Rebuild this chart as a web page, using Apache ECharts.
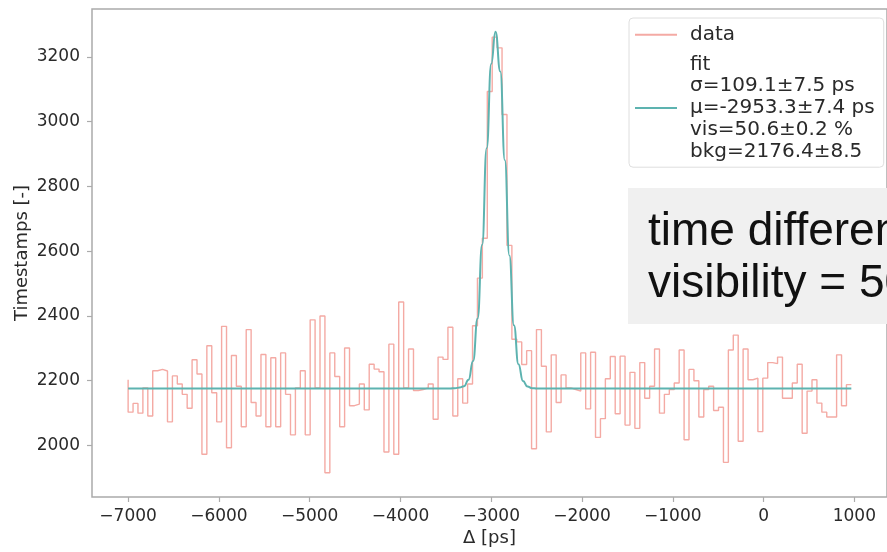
<!DOCTYPE html>
<html>
<head>
    <meta charset="utf-8">
    <script src="https://cdn.jsdelivr.net/npm/echarts@6/dist/echarts.min.js"></script>
</head>
<body style="margin:0;background-color:#ffffff;">

    <div id="container" style="width:887px;height:552px;"></div>

    <script type="text/javascript">
        // histogram bins (ps) and counts
        var binStart = -7000;
        var binWidth = 54.2;
        var counts = [
            2203, 2103, 2130, 2100, 2178, 2091, 2231, 2235, 2230, 2073, 2215, 2190, 2158, 2115, 2265,
            2221, 1973, 2308, 2163, 2073, 2368, 1993, 2278, 2183, 2058, 2358, 2133, 2091, 2281,
            2058, 2271, 2058, 2286, 2158, 2033, 2178, 2231, 2033, 2388, 2178, 2400, 1916, 2286, 2213,
            2058, 2301, 2123, 2128, 2190, 2110, 2251, 2236, 2228, 1980, 2313, 1973, 2443, 2178, 2298,
            2170, 2173, 2178, 2190, 2081, 2273, 2266, 2365, 2091, 2206,
            2131, 2190, 2370, 2517, 2640, 3093, 3261, 3228, 3022, 2618, 2328, 2320, 2250, 2293, 1990,
            2358, 2245, 2042, 2280, 2133, 2218, 2178, 2173, 2168, 2286, 2113, 2288, 2025, 2083, 2206,
            2275, 2098, 2276, 2063, 2226, 2053, 2256, 2146, 2183, 2298,
            2100, 2158, 2173, 2193, 2295, 2018, 2235, 2200, 2088, 2173, 2183, 2108, 2118, 1948, 2295,
            2341, 2013, 2298, 2203, 2208, 2043, 2208, 2256, 2253, 2273, 2146, 2146, 2193, 2251, 2038,
            2168, 2203, 2131, 2103, 2088, 2088, 2280, 2123, 2188
        ];

        // fit curve, points
        var fitX = [-7000, -3450, -3400, -3350, -3300, -3250, -3200, -3150, -3100, -3050, -3000, -2953,
            -2900, -2850, -2800, -2750, -2700, -2650, -2600, -2550, -2500, 967];
        var fitY = [2176, 2176, 2177, 2179, 2183, 2203, 2261, 2392, 2620, 2918, 3179, 3278,
            3155, 2881, 2587, 2371, 2251, 2199, 2182, 2177, 2176, 2176];

        var xTicks = [-7000, -6000, -5000, -4000, -3000, -2000, -1000, 0, 1000];
        var yTicks = [2000, 2200, 2400, 2600, 2800, 3000, 3200];

        var fitLabel = ['fit', 'σ=109.1±7.5 ps', 'μ=-2953.3±7.4 ps', 'vis=50.6±0.2 %', 'bkg=2176.4±8.5'];
        var noteLines = ['time difference', 'visibility = 50.6 %'];

        var textColor = '#2a2a2a';
        var frameColor = '#ababab';
        var dataColor = '#f4aaa4';
        var fitColor = '#5db3b0';

        var dom = document.getElementById("container");
        var myChart = echarts.init(dom);

        var dataPoints = [];
        for (var i = 0; i < counts.length; i++) {
            dataPoints.push([binStart + i * binWidth, counts[i]]);
        }
        var fitPoints = [];
        for (var j = 0; j < fitX.length; j++) {
            fitPoints.push([fitX[j], fitY[j]]);
        }

        function minusSign(v) {
            return String(v).replace('-', '\u2212');
        }

        var option = {
            animation: false,
            grid: {
                left: 92,
                top: 9,
                width: 797,
                height: 492,
                show: true,
                borderColor: frameColor,
                borderWidth: 1.5,
                backgroundColor: 'transparent'
            },
            xAxis: {
                type: 'value',
                min: -7398,
                max: 1360,
                name: 'Δ [ps]',
                nameLocation: 'middle',
                nameGap: 32,
                nameMoveOverlap: false,
                nameTextStyle: { fontFamily: 'DejaVu Sans', fontSize: 18, color: textColor },
                axisLine: { show: false, onZero: false },
                splitLine: { show: false },
                axisTick: {
                    customValues: xTicks,
                    length: 5,
                    lineStyle: { color: frameColor, width: 1.2 }
                },
                axisLabel: {
                    customValues: xTicks,
                    margin: 11,
                    fontFamily: 'DejaVu Sans',
                    fontSize: 17,
                    color: textColor,
                    formatter: minusSign
                }
            },
            yAxis: {
                type: 'value',
                min: 1841,
                max: 3348,
                name: 'Timestamps [-]',
                nameLocation: 'middle',
                nameGap: 61,
                nameMoveOverlap: false,
                nameRotate: 90,
                nameTextStyle: { fontFamily: 'DejaVu Sans', fontSize: 18, color: textColor },
                axisLine: { show: false, onZero: false },
                splitLine: { show: false },
                axisTick: {
                    customValues: yTicks,
                    length: 5,
                    lineStyle: { color: frameColor, width: 1.2 }
                },
                axisLabel: {
                    customValues: yTicks,
                    margin: 12,
                    fontFamily: 'DejaVu Sans',
                    fontSize: 17,
                    color: textColor,
                    formatter: function (v) { return String(v); }
                }
            },
            legend: {
                left: 629,
                top: 18,
                orient: 'vertical',
                backgroundColor: 'rgba(255,255,255,0.85)',
                borderColor: '#dedede',
                borderWidth: 1,
                borderRadius: 4,
                padding: [6, 9, 5, 6],
                itemGap: 8,
                itemWidth: 42,
                itemHeight: 2,
                data: [{ name: 'data', icon: 'rect' }, { name: 'fit', icon: 'rect' }],
                formatter: function (name) {
                    return name === 'fit' ? fitLabel.join('\n') : name;
                },
                textStyle: {
                    fontFamily: 'DejaVu Sans',
                    fontSize: 20,
                    color: textColor,
                    lineHeight: 21.7,
                    padding: [0, 0, 0, 8]
                }
            },
            graphic: [
                {
                    type: 'rect',
                    left: 628,
                    top: 188,
                    shape: { width: 300, height: 136 },
                    style: { fill: '#f0f0f0' },
                    z: 100
                },
                {
                    type: 'text',
                    x: 648,
                    y: 232,
                    style: {
                        text: noteLines[0],
                        font: '46px "Liberation Sans"',
                        fill: '#111111',
                        verticalAlign: 'middle'
                    },
                    z: 101
                },
                {
                    type: 'text',
                    x: 648,
                    y: 284,
                    style: {
                        text: noteLines[1],
                        font: '46px "Liberation Sans"',
                        fill: '#111111',
                        verticalAlign: 'middle'
                    },
                    z: 101
                }
            ],
            series: [
                {
                    name: 'data',
                    type: 'line',
                    step: 'start',
                    showSymbol: false,
                    data: dataPoints,
                    itemStyle: { color: dataColor },
                    lineStyle: { color: dataColor, width: 1.4 },
                    z: 2
                },
                {
                    name: 'fit',
                    type: 'line',
                    smooth: true,
                    smoothMonotone: 'x',
                    showSymbol: false,
                    data: fitPoints,
                    itemStyle: { color: fitColor },
                    lineStyle: { color: fitColor, width: 2 },
                    z: 3
                }
            ]
        };

        myChart.setOption(option, true);
    </script>
</body>
</html>
